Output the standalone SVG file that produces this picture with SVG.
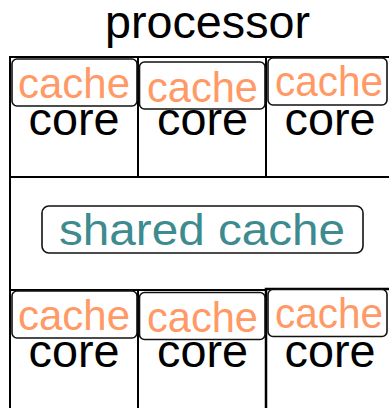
<svg xmlns="http://www.w3.org/2000/svg" width="389" height="408" viewBox="0 0 389 408">
<style>
text{font-family:"Liberation Sans",Arial,sans-serif;text-anchor:middle}
.cell{fill:#fff;stroke:#000;stroke-width:2}
.cbox{fill:#fff;stroke:#111;stroke-width:1.6}
.ct{fill:#ff9966;font-size:42px}
.core{fill:#000;font-size:47px}
.title{fill:#000;font-size:46px}
.sh{fill:#3d8b8f;font-size:45px}
</style>
<g id="processor">
<rect class="cell" x="10" y="57" width="390" height="360"/>
<text class="title" x="207.5" y="38" textLength="205" lengthAdjust="spacingAndGlyphs">processor</text>
</g>
<g id="middle">
<rect class="cell" x="10" y="177" width="390" height="113"/>
</g>
<g id="core-top-1"><rect class="cell" x="10" y="57" width="128" height="120"/><text class="core" x="74" y="135" textLength="91" lengthAdjust="spacingAndGlyphs">core</text></g>
<g id="core-top-2"><rect class="cell" x="138" y="57" width="128" height="120"/><text class="core" x="202.5" y="135" textLength="91" lengthAdjust="spacingAndGlyphs">core</text></g>
<g id="core-top-3"><rect class="cell" x="266" y="57" width="128" height="120"/><text class="core" x="330" y="135" textLength="91" lengthAdjust="spacingAndGlyphs">core</text></g>
<g id="cache-top-1"><rect class="cbox" x="12" y="59" width="125" height="47" rx="5"/><text class="ct" x="74" y="98" textLength="112" lengthAdjust="spacingAndGlyphs">cache</text></g>
<g id="cache-top-2"><rect class="cbox" x="139.5" y="62" width="125.5" height="47" rx="5"/><text class="ct" x="202.5" y="102" textLength="111" lengthAdjust="spacingAndGlyphs">cache</text></g>
<g id="cache-top-3"><rect class="cbox" x="268" y="58" width="119" height="47" rx="5"/><text class="ct" x="329" y="96" textLength="108" lengthAdjust="spacingAndGlyphs">cache</text></g>
<g id="shared-cache"><rect class="cbox" x="42" y="206" width="321" height="47" rx="7"/><text class="sh" x="202" y="245" textLength="286" lengthAdjust="spacingAndGlyphs">shared cache</text></g>
<g id="core-bot-1"><rect class="cell" x="10" y="290" width="128" height="130"/><text class="core" x="74" y="367" textLength="91" lengthAdjust="spacingAndGlyphs">core</text></g>
<g id="core-bot-2"><rect class="cell" x="138" y="290" width="128" height="130"/><text class="core" x="202.5" y="367" textLength="91" lengthAdjust="spacingAndGlyphs">core</text></g>
<g id="core-bot-3"><rect class="cell" x="266" y="289" width="128" height="131" style="stroke-width:2.5"/><text class="core" x="330" y="367" textLength="91" lengthAdjust="spacingAndGlyphs">core</text></g>
<g id="cache-bot-1"><rect class="cbox" x="12" y="291" width="125" height="47" rx="5"/><text class="ct" x="74" y="330" textLength="112" lengthAdjust="spacingAndGlyphs">cache</text></g>
<g id="cache-bot-2"><rect class="cbox" x="139.5" y="292.5" width="125.5" height="47" rx="5"/><text class="ct" x="202.5" y="332" textLength="111" lengthAdjust="spacingAndGlyphs">cache</text></g>
<g id="cache-bot-3"><rect class="cbox" x="268" y="289.5" width="119" height="47" rx="5"/><text class="ct" x="329" y="328" textLength="108" lengthAdjust="spacingAndGlyphs">cache</text></g>
</svg>
